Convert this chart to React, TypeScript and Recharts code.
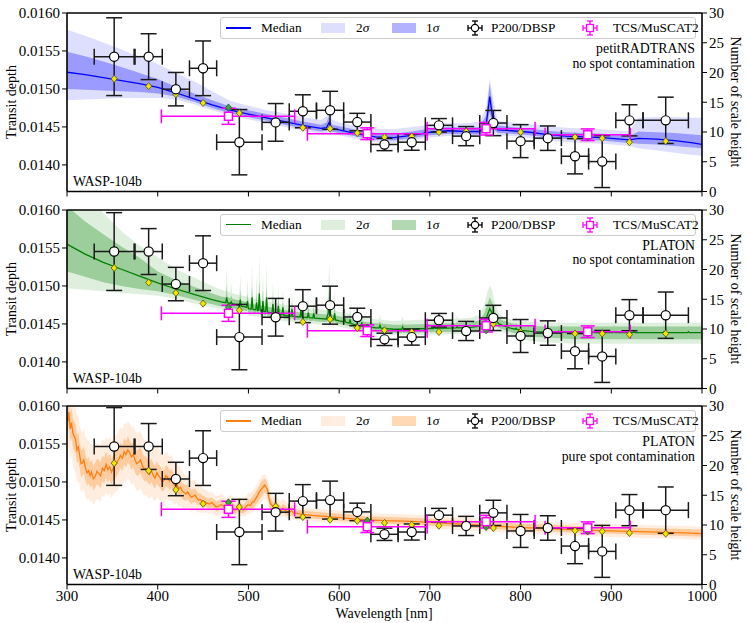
import React from "react";
import {
  ComposedChart,
  Area,
  Line,
  Scatter,
  XAxis,
  YAxis,
  ErrorBar,
  ReferenceLine,
} from "recharts";

const FONT = '"Liberation Serif", "Times New Roman", serif';

// transit depth is kept in ppm (x1e6) and formatted back on the axis
const DEPTH_DOMAIN: [number, number] = [13650, 16000];
const DEPTH_TICKS = [14000, 14500, 15000, 15500, 16000];
const SCALE_TICKS = [0, 5, 10, 15, 20, 25, 30];
const WL_TICKS = [300, 400, 500, 600, 700, 800, 900, 1000];

// P200/DBSP spectrophotometry
const P200_WL = [352, 390, 420, 450, 490, 530, 560, 590, 620, 650, 680, 710, 740, 770, 800, 830, 860, 890, 920, 960];
const P200_HALF = [22, 15, 15, 15, 25, 15, 15, 15, 15, 15, 15, 15, 15, 15, 15, 15, 15, 15, 15, 25];
const P200_DEPTH = [15425, 15425, 14997, 15272, 14299, 14560, 14706, 14719, 14564, 14269, 14299, 14521, 14379, 14551, 14313, 14352, 14114, 14044, 14587, 14587];
const P200_ERR = [512, 302, 220, 360, 430, 248, 217, 250, 115, 81, 106, 89, 126, 166, 217, 161, 232, 342, 205, 305];

// TCS/MuSCAT2 broad bands
const MUS_WL = [478, 631, 762, 874];
const MUS_XERR = [[74, 73], [66, 66], [65, 54], [47, 47]];
const MUS_DEPTH = [14640, 14411, 14477, 14397];
const MUS_ERR = [106, 77, 83, 77];

// ---- panel 1: petitRADTRANS, no spot contamination
const P1_WL = [300, 320, 340, 360, 380, 400, 420, 440, 460, 480, 500, 520, 540, 560, 580, 586, 589, 592, 600, 620, 640, 660, 680, 700, 720, 740, 755, 762, 766, 770, 775, 790, 810, 830, 850, 870, 890, 910, 920, 930, 950, 970, 990, 1000];
const P1_MED = [15220, 15190, 15150, 15110, 15070, 15020, 14950, 14870, 14790, 14720, 14670, 14620, 14570, 14520, 14480, 14490, 14560, 14480, 14460, 14410, 14370, 14360, 14390, 14430, 14450, 14440, 14440, 14520, 14900, 14550, 14460, 14450, 14430, 14400, 14380, 14370, 14360, 14340, 14330, 14350, 14340, 14320, 14290, 14270];
const P1_S1LO = [15000, 14990, 14980, 14970, 14960, 14940, 14900, 14830, 14750, 14680, 14630, 14580, 14530, 14480, 14440, 14450, 14480, 14440, 14420, 14370, 14330, 14320, 14350, 14390, 14410, 14400, 14400, 14450, 14700, 14470, 14420, 14410, 14390, 14360, 14340, 14330, 14320, 14300, 14290, 14280, 14270, 14250, 14230, 14220];
const P1_S1HI = [15490, 15430, 15360, 15290, 15210, 15130, 15030, 14940, 14850, 14770, 14720, 14670, 14620, 14570, 14530, 14560, 14650, 14530, 14510, 14460, 14420, 14410, 14440, 14480, 14500, 14490, 14500, 14650, 15070, 14700, 14520, 14500, 14480, 14450, 14430, 14420, 14410, 14390, 14380, 14440, 14430, 14420, 14400, 14390];
const P1_S2LO = [14850, 14860, 14870, 14880, 14880, 14880, 14860, 14800, 14720, 14650, 14600, 14550, 14500, 14450, 14410, 14420, 14440, 14410, 14390, 14340, 14300, 14290, 14320, 14360, 14380, 14370, 14370, 14410, 14550, 14420, 14390, 14380, 14350, 14320, 14300, 14290, 14280, 14260, 14250, 14220, 14190, 14160, 14130, 14120];
const P1_S2HI = [15780, 15700, 15610, 15520, 15420, 15330, 15210, 15100, 14970, 14840, 14780, 14720, 14680, 14630, 14590, 14640, 14760, 14600, 14560, 14510, 14480, 14470, 14500, 14530, 14550, 14550, 14570, 14750, 15140, 14850, 14580, 14560, 14540, 14510, 14490, 14480, 14470, 14450, 14440, 14620, 14630, 14630, 14620, 14620];
const P1_BIN = [15134, 15037, 14931, 14816, 14683, 14580, 14490, 14477, 14419, 14366, 14375, 14432, 14441, 14520, 14432, 14366, 14366, 14352, 14299, 14313];
const P1_MUSBIN = [14755, 14420, 14500, 14366];

// ---- panel 2: PLATON, no spot contamination (narrow absorption needles)
const P2_WL = [300, 320, 340, 360, 380, 400, 420, 440, 460, 470, 475, 476, 477, 480, 481, 482, 490, 491, 492, 498, 499, 500, 503, 504, 505, 508, 509, 510, 511, 512, 513, 515, 516, 517, 519, 520, 521, 526, 527, 528, 532, 533, 534, 537, 538, 539, 547, 548, 549, 557, 558, 559, 565, 566, 567, 571, 572, 573, 580, 586, 588, 589, 590, 592, 594, 595, 596, 600, 605, 606, 607, 611, 612, 613, 620, 624, 625, 626, 640, 644, 645, 646, 660, 669, 670, 671, 700, 704, 705, 706, 729, 730, 731, 745, 755, 760, 763, 766, 769, 772, 776, 780, 790, 794, 795, 796, 800, 814, 815, 816, 841, 842, 843, 860, 879, 880, 881, 902, 903, 904, 924, 925, 926, 957, 958, 959, 984, 985, 986, 1000];
const P2_MED = [15550, 15420, 15310, 15220, 15130, 15040, 14960, 14890, 14820, 14790, 14780, 14850, 14780, 14770, 14790, 14765, 14740, 14820, 14735, 14720, 14800, 14700, 14695, 14850, 14690, 14685, 14780, 14680, 14680, 14900, 14675, 14670, 14800, 14665, 14660, 14850, 14655, 14645, 14760, 14640, 14630, 14740, 14625, 14620, 14720, 14615, 14600, 14700, 14598, 14592, 14680, 14590, 14585, 14650, 14583, 14578, 14640, 14576, 14570, 14565, 14640, 14800, 14640, 14560, 14556, 14640, 14552, 14540, 14530, 14580, 14525, 14510, 14560, 14505, 14480, 14475, 14520, 14472, 14450, 14448, 14480, 14446, 14430, 14430, 14460, 14430, 14440, 14440, 14470, 14441, 14448, 14470, 14449, 14455, 14470, 14520, 14600, 14700, 14640, 14560, 14500, 14480, 14440, 14430, 14445, 14428, 14415, 14400, 14415, 14399, 14390, 14405, 14390, 14385, 14385, 14400, 14385, 14385, 14400, 14385, 14385, 14397, 14385, 14385, 14400, 14385, 14385, 14397, 14385, 14385];
const P2_S1LO = [15190, 15120, 15050, 15000, 14960, 14930, 14880, 14820, 14760, 14730, 14725, 14740, 14720, 14710, 14720, 14705, 14690, 14710, 14685, 14670, 14690, 14650, 14645, 14680, 14640, 14635, 14660, 14630, 14630, 14700, 14625, 14620, 14650, 14615, 14610, 14660, 14605, 14595, 14630, 14590, 14580, 14610, 14575, 14570, 14600, 14565, 14560, 14580, 14558, 14552, 14570, 14550, 14545, 14560, 14543, 14538, 14550, 14536, 14530, 14525, 14545, 14600, 14545, 14520, 14516, 14540, 14512, 14500, 14488, 14500, 14483, 14468, 14480, 14463, 14430, 14425, 14440, 14422, 14400, 14398, 14410, 14396, 14380, 14380, 14390, 14380, 14390, 14390, 14400, 14391, 14398, 14405, 14399, 14400, 14410, 14440, 14490, 14560, 14530, 14490, 14450, 14430, 14390, 14375, 14380, 14372, 14355, 14330, 14335, 14329, 14310, 14315, 14310, 14300, 14300, 14305, 14300, 14300, 14305, 14300, 14300, 14304, 14300, 14300, 14305, 14300, 14300, 14304, 14300, 14300];
const P2_S1HI = [16050, 15850, 15680, 15520, 15370, 15190, 15080, 14990, 14900, 14860, 14850, 15000, 14850, 14840, 14880, 14835, 14810, 14950, 14805, 14790, 14900, 14770, 14765, 15000, 14760, 14755, 14900, 14750, 14750, 15100, 14745, 14740, 14950, 14735, 14730, 15000, 14725, 14715, 14880, 14710, 14700, 14850, 14695, 14690, 14800, 14685, 14670, 14780, 14668, 14652, 14780, 14650, 14645, 14740, 14643, 14638, 14720, 14636, 14630, 14625, 14780, 14980, 14760, 14620, 14616, 14760, 14612, 14600, 14590, 14650, 14585, 14570, 14640, 14565, 14540, 14535, 14600, 14532, 14510, 14508, 14540, 14506, 14490, 14490, 14520, 14490, 14500, 14500, 14530, 14501, 14508, 14540, 14509, 14520, 14550, 14640, 14750, 14850, 14780, 14660, 14580, 14550, 14510, 14500, 14515, 14497, 14485, 14472, 14487, 14471, 14465, 14480, 14465, 14465, 14465, 14480, 14465, 14465, 14480, 14465, 14465, 14477, 14465, 14465, 14480, 14465, 14465, 14477, 14465, 14465];
const P2_S2LO = [14970, 14950, 14930, 14910, 14890, 14870, 14830, 14770, 14720, 14690, 14685, 14690, 14680, 14670, 14670, 14665, 14650, 14650, 14645, 14630, 14630, 14610, 14605, 14610, 14600, 14595, 14600, 14590, 14590, 14600, 14585, 14580, 14590, 14575, 14575, 14580, 14570, 14560, 14570, 14555, 14550, 14555, 14545, 14540, 14545, 14535, 14525, 14530, 14523, 14512, 14515, 14510, 14505, 14505, 14503, 14498, 14500, 14496, 14490, 14485, 14490, 14520, 14490, 14480, 14476, 14480, 14472, 14460, 14450, 14450, 14445, 14432, 14435, 14428, 14400, 14395, 14400, 14392, 14370, 14368, 14370, 14366, 14350, 14350, 14352, 14350, 14360, 14360, 14362, 14361, 14368, 14370, 14369, 14370, 14380, 14400, 14430, 14480, 14460, 14440, 14410, 14390, 14350, 14330, 14332, 14328, 14300, 14270, 14272, 14268, 14250, 14252, 14250, 14240, 14240, 14242, 14240, 14240, 14242, 14240, 14240, 14242, 14240, 14240, 14242, 14240, 14240, 14242, 14240, 14240];
const P2_S2HI = [16600, 16250, 15960, 15720, 15530, 15380, 15220, 15110, 15000, 14950, 14930, 15250, 14930, 14910, 15050, 14905, 14880, 15150, 14875, 14860, 15100, 14840, 14835, 15300, 14830, 14825, 15150, 14820, 14820, 15450, 14815, 14810, 15200, 14805, 14800, 15300, 14795, 14785, 15050, 14780, 14770, 15000, 14765, 14760, 14950, 14755, 14740, 14900, 14738, 14722, 14950, 14720, 14710, 14880, 14705, 14700, 14850, 14698, 14690, 14685, 14950, 15300, 14950, 14680, 14676, 14950, 14672, 14660, 14650, 14800, 14645, 14630, 14750, 14625, 14600, 14595, 14700, 14592, 14560, 14558, 14620, 14556, 14540, 14545, 14600, 14545, 14560, 14560, 14620, 14561, 14568, 14620, 14569, 14580, 14620, 14760, 14900, 15010, 14930, 14760, 14650, 14600, 14560, 14555, 14600, 14552, 14540, 14525, 14580, 14524, 14515, 14570, 14515, 14515, 14515, 14560, 14515, 14515, 14570, 14515, 14515, 14560, 14515, 14515, 14570, 14515, 14515, 14560, 14515, 14515];
const P2_BIN = [15237, 15045, 14908, 14768, 14680, 14600, 14526, 14562, 14447, 14417, 14394, 14394, 14420, 14500, 14394, 14373, 14373, 14373, 14360, 14373];
const P2_MUSBIN = [14720, 14450, 14417, 14373];

// ---- panel 3: PLATON, pure spot contamination (noisy blue end)
const P3_WL = [300, 301, 302, 303.5, 305, 306.5, 308, 309.5, 311, 312.5, 314, 315.5, 317, 318.5, 320, 322, 324, 325.5, 327, 329, 331, 333, 335, 337, 339, 341, 343, 345, 347, 349, 351, 353, 355, 357, 359, 361, 363, 365, 367, 369, 371, 373, 375, 377, 379, 381, 383, 385, 387, 389, 391, 393, 395, 397, 399, 401, 403, 405, 407, 409, 411, 413, 415, 417, 419, 421, 423, 425, 427, 429, 431, 433, 435, 437, 439, 441, 443, 445, 447, 449.5, 452, 454.5, 457, 459.5, 462, 464.5, 467, 469.5, 472, 474.5, 477, 479.5, 482, 484.5, 487, 489.5, 492, 494.5, 497, 499.5, 502, 504, 506, 508, 510, 512, 514, 516, 518, 519.5, 521, 522.5, 524, 526, 528, 530, 532, 534, 536, 538, 540, 542.5, 545, 547.5, 550, 553, 556, 570, 590, 610, 630, 650, 680, 710, 740, 770, 800, 830, 860, 890, 920, 950, 980, 1000];
const P3_MED = [15860, 15800, 15920, 15700, 15780, 15640, 15600, 15560, 15420, 15460, 15350, 15240, 15250, 15290, 15200, 15120, 15150, 15080, 15130, 15040, 15070, 15140, 15110, 15080, 15180, 15150, 15230, 15160, 15200, 15130, 15180, 15220, 15250, 15300, 15350, 15310, 15400, 15360, 15420, 15390, 15330, 15360, 15290, 15240, 15260, 15290, 15220, 15170, 15180, 15140, 15100, 15150, 15090, 15050, 15120, 15080, 15050, 15000, 15020, 15080, 15060, 15010, 15040, 14990, 14950, 14980, 14910, 14930, 14880, 14860, 14840, 14870, 14830, 14800, 14810, 14830, 14790, 14760, 14770, 14740, 14740, 14720, 14710, 14730, 14700, 14670, 14680, 14700, 14690, 14650, 14660, 14690, 14670, 14630, 14640, 14670, 14650, 14630, 14670, 14700, 14690, 14730, 14740, 14780, 14820, 14870, 14900, 14930, 14960, 14930, 14900, 14800, 14720, 14690, 14660, 14680, 14650, 14630, 14620, 14650, 14630, 14610, 14600, 14620, 14590, 14590, 14580, 14560, 14540, 14520, 14500, 14490, 14480, 14460, 14440, 14420, 14400, 14390, 14370, 14360, 14350, 14340, 14330, 14320];
const P3_S1LO = [15700, 15640, 15750, 15520, 15580, 15450, 15400, 15380, 15250, 15270, 15180, 15060, 15080, 15110, 15030, 14950, 14980, 14920, 14960, 14890, 14920, 14970, 14950, 14920, 15010, 14980, 15060, 14990, 15040, 14970, 15020, 15050, 15080, 15130, 15180, 15140, 15230, 15190, 15250, 15220, 15160, 15190, 15120, 15080, 15090, 15120, 15060, 15010, 15020, 14990, 14960, 15000, 14950, 14910, 14980, 14940, 14920, 14870, 14890, 14940, 14930, 14890, 14920, 14870, 14840, 14860, 14800, 14820, 14780, 14760, 14750, 14770, 14740, 14710, 14730, 14740, 14710, 14690, 14700, 14670, 14680, 14660, 14650, 14660, 14640, 14610, 14620, 14630, 14630, 14590, 14600, 14620, 14610, 14580, 14590, 14610, 14590, 14580, 14610, 14630, 14630, 14650, 14660, 14700, 14730, 14770, 14800, 14830, 14860, 14840, 14810, 14720, 14650, 14620, 14600, 14610, 14590, 14580, 14570, 14590, 14580, 14560, 14550, 14560, 14540, 14540, 14540, 14520, 14500, 14480, 14460, 14450, 14440, 14420, 14400, 14380, 14360, 14350, 14330, 14320, 14310, 14300, 14290, 14280];
const P3_S1HI = [16050, 15990, 16100, 15900, 15980, 15840, 15800, 15760, 15620, 15650, 15520, 15420, 15430, 15470, 15380, 15300, 15330, 15260, 15300, 15220, 15250, 15310, 15290, 15260, 15350, 15320, 15400, 15330, 15370, 15300, 15360, 15390, 15420, 15470, 15520, 15480, 15580, 15540, 15600, 15560, 15500, 15530, 15460, 15410, 15430, 15460, 15390, 15340, 15340, 15300, 15260, 15310, 15250, 15210, 15270, 15230, 15200, 15150, 15160, 15220, 15200, 15150, 15180, 15120, 15080, 15100, 15030, 15050, 14990, 14970, 14950, 14970, 14930, 14900, 14900, 14920, 14880, 14850, 14850, 14820, 14810, 14790, 14780, 14800, 14770, 14740, 14750, 14770, 14760, 14720, 14730, 14760, 14740, 14700, 14700, 14740, 14720, 14700, 14740, 14780, 14770, 14810, 14830, 14870, 14910, 14960, 15000, 15030, 15050, 15020, 14980, 14880, 14800, 14760, 14730, 14750, 14720, 14700, 14680, 14710, 14700, 14670, 14660, 14680, 14650, 14640, 14630, 14610, 14590, 14570, 14550, 14540, 14530, 14510, 14490, 14470, 14450, 14440, 14420, 14410, 14400, 14390, 14380, 14370];
const P3_S2LO = [15450, 15420, 15500, 15300, 15350, 15220, 15150, 15120, 15000, 15020, 14950, 14850, 14880, 14900, 14820, 14760, 14780, 14730, 14760, 14700, 14740, 14780, 14760, 14740, 14820, 14800, 14870, 14810, 14850, 14790, 14830, 14860, 14880, 14930, 14970, 14940, 15020, 14990, 15050, 15020, 14960, 14990, 14920, 14880, 14890, 14920, 14860, 14820, 14830, 14800, 14780, 14810, 14770, 14740, 14800, 14770, 14760, 14720, 14730, 14780, 14770, 14740, 14760, 14730, 14700, 14720, 14670, 14690, 14650, 14640, 14640, 14650, 14630, 14610, 14620, 14630, 14610, 14600, 14600, 14590, 14600, 14590, 14580, 14590, 14570, 14550, 14560, 14570, 14570, 14540, 14550, 14560, 14560, 14530, 14540, 14560, 14550, 14540, 14560, 14580, 14580, 14600, 14610, 14640, 14670, 14700, 14730, 14760, 14780, 14770, 14740, 14660, 14600, 14580, 14560, 14570, 14550, 14540, 14530, 14550, 14540, 14520, 14510, 14520, 14500, 14500, 14500, 14480, 14460, 14440, 14420, 14410, 14400, 14380, 14360, 14340, 14320, 14310, 14290, 14280, 14270, 14260, 14250, 14240];
const P3_S2HI = [16300, 16250, 16300, 16150, 16200, 16080, 16000, 15980, 15850, 15900, 15750, 15680, 15650, 15700, 15600, 15560, 15550, 15500, 15520, 15450, 15470, 15520, 15500, 15480, 15560, 15540, 15600, 15560, 15580, 15530, 15570, 15610, 15620, 15680, 15720, 15700, 15780, 15760, 15800, 15780, 15720, 15740, 15680, 15640, 15650, 15670, 15600, 15560, 15560, 15520, 15480, 15510, 15460, 15430, 15480, 15440, 15400, 15360, 15360, 15400, 15380, 15330, 15350, 15300, 15250, 15270, 15200, 15210, 15140, 15110, 15080, 15090, 15050, 15010, 15020, 15030, 14990, 14960, 14950, 14920, 14900, 14880, 14860, 14870, 14840, 14810, 14820, 14840, 14830, 14790, 14800, 14830, 14810, 14760, 14770, 14800, 14790, 14770, 14810, 14850, 14850, 14880, 14900, 14940, 14980, 15030, 15060, 15090, 15100, 15080, 15040, 14950, 14870, 14830, 14800, 14820, 14790, 14770, 14750, 14780, 14760, 14730, 14720, 14740, 14700, 14690, 14680, 14650, 14630, 14610, 14590, 14580, 14570, 14550, 14530, 14510, 14490, 14480, 14460, 14450, 14440, 14430, 14420, 14410];
const P3_BIN = [15248, 15147, 14897, 14713, 14670, 14678, 14539, 14503, 14490, 14460, 14437, 14424, 14420, 14394, 14400, 14390, 14359, 14350, 14329, 14320];
const P3_MUSBIN = [14730, 14490, 14407, 14350];

type PanelCfg = {
  wl: number[];
  med: number[];
  s1lo: number[];
  s1hi: number[];
  s2lo: number[];
  s2hi: number[];
  bin: number[];
  musBin: number[];
  shift: number; // relative offset of the P200 points in this fit
  color: string;
  title: string;
  subtitle: string;
};

const PANELS: PanelCfg[] = [
  { wl: P1_WL, med: P1_MED, s1lo: P1_S1LO, s1hi: P1_S1HI, s2lo: P1_S2LO, s2hi: P1_S2HI, bin: P1_BIN, musBin: P1_MUSBIN, shift: 0, color: "#0000ff", title: "petitRADTRANS", subtitle: "no spot contamination" },
  { wl: P2_WL, med: P2_MED, s1lo: P2_S1LO, s1hi: P2_S1HI, s2lo: P2_S2LO, s2hi: P2_S2HI, bin: P2_BIN, musBin: P2_MUSBIN, shift: 28, color: "#008000", title: "PLATON", subtitle: "no spot contamination" },
  { wl: P3_WL, med: P3_MED, s1lo: P3_S1LO, s1hi: P3_S1HI, s2lo: P3_S2LO, s2hi: P3_S2HI, bin: P3_BIN, musBin: P3_MUSBIN, shift: 42, color: "#ff7f0e", title: "PLATON", subtitle: "pure spot contamination" },
];

const S2_OPACITY = 0.13;
const S1_OPACITY = 0.3;

const fmtDepth = (v: number) => (v / 1e6).toFixed(4);

const Circle = (p: any) => (
  <circle cx={p.cx} cy={p.cy} r={4.6} fill="#fff" stroke="#000" strokeWidth={1.2} />
);
const Square = (p: any) => (
  <rect x={p.cx - 4} y={p.cy - 4} width={8} height={8} fill="#fff" stroke="#ff00ff" strokeWidth={1.5} />
);
const Diamond = (fill: string, edge: string) => (p: any) => (
  <path
    d={`M${p.cx},${p.cy - 3.6}L${p.cx + 3},${p.cy}L${p.cx},${p.cy + 3.6}L${p.cx - 3},${p.cy}Z`}
    fill={fill}
    stroke={edge}
    strokeWidth={0.8}
  />
);
const Nothing = () => <g />;

const PLOT_TOP = 13;
const PLOT_H = 178.5;

function LegendIcon({ color }: { color: string }) {
  return (
    <svg width={16} height={16} style={{ position: "absolute", left: -8, top: 2 }}>
      <line x1={1} y1={8} x2={15} y2={8} stroke={color} strokeWidth={1.3} />
      <line x1={1} y1={5} x2={1} y2={11} stroke={color} strokeWidth={1.3} />
      <line x1={15} y1={5} x2={15} y2={11} stroke={color} strokeWidth={1.3} />
      <line x1={8} y1={1} x2={8} y2={15} stroke={color} strokeWidth={1.3} />
      <line x1={5} y1={1} x2={11} y2={1} stroke={color} strokeWidth={1.3} />
      <line x1={5} y1={15} x2={11} y2={15} stroke={color} strokeWidth={1.3} />
      {color === "#000" ? (
        <circle cx={8} cy={8} r={3.6} fill="#fff" stroke="#000" strokeWidth={1.1} />
      ) : (
        <rect x={4.5} y={4.5} width={7} height={7} fill="#fff" stroke={color} strokeWidth={1.3} />
      )}
    </svg>
  );
}

function PanelLegend({ color }: { color: string }) {
  const txt: React.CSSProperties = { position: "absolute", top: 0, lineHeight: "20px", fontSize: 13.3, whiteSpace: "nowrap" };
  return (
    <div
      style={{
        position: "absolute",
        left: 220,
        top: PLOT_TOP + 4,
        width: 474,
        height: 20,
        border: "1px solid #cccccc",
        borderRadius: 3,
        background: "rgba(255,255,255,0.85)",
      }}
    >
      <div style={{ position: "absolute", left: 5, top: 9, width: 25, height: 1.6, background: color }} />
      <span style={{ ...txt, left: 40 }}>Median</span>
      <div style={{ position: "absolute", left: 100, top: 5, width: 24, height: 10, background: color, opacity: S2_OPACITY }} />
      <span style={{ ...txt, left: 135 }}>2<i>σ</i></span>
      <div style={{ position: "absolute", left: 171, top: 5, width: 24, height: 10, background: color, opacity: S1_OPACITY }} />
      <span style={{ ...txt, left: 205 }}>1<i>σ</i></span>
      <div style={{ position: "absolute", left: 254, top: 0 }}>
        <LegendIcon color="#000" />
      </div>
      <span style={{ ...txt, left: 270 }}>P200/DBSP</span>
      <div style={{ position: "absolute", left: 369, top: 0 }}>
        <LegendIcon color="#ff00ff" />
      </div>
      <span style={{ ...txt, left: 392 }}>TCS/MuSCAT2</span>
    </div>
  );
}

function Panel({ cfg, top, bottom }: { cfg: PanelCfg; top: number; bottom: boolean }) {
  const xh = bottom ? 38.5 : 5.5;
  const height = PLOT_TOP + PLOT_H + xh;
  const rows = cfg.wl.map((wl, i) => ({
    wl,
    med: cfg.med[i],
    s1: [cfg.s1lo[i], cfg.s1hi[i]],
    s2: [cfg.s2lo[i], cfg.s2hi[i]],
  }));
  const p200 = P200_WL.map((wl, i) => ({
    wl,
    depth: P200_DEPTH[i] + cfg.shift,
    ex: P200_HALF[i],
    ey: P200_ERR[i],
  }));
  const mus = MUS_WL.map((wl, i) => ({ wl, depth: MUS_DEPTH[i], ex: MUS_XERR[i], ey: MUS_ERR[i] }));
  const bins = P200_WL.map((wl, i) => ({ wl, depth: cfg.bin[i] }));
  const musBins = MUS_WL.map((wl, i) => ({ wl, depth: cfg.musBin[i] }));
  const axisLine = { stroke: "#000", strokeWidth: 1.6 };
  const tickLine = { stroke: "#000", strokeWidth: 1 };
  const tick = { fill: "#000", fontSize: 15 };

  return (
    <div style={{ position: "absolute", left: 0, top, width: 747, height }}>
      <ComposedChart
        width={747}
        height={height}
        data={rows}
        margin={{ top: PLOT_TOP, right: 0, bottom: 0, left: 0 }}
      >
        <XAxis
          type="number"
          dataKey="wl"
          domain={[300, 1000]}
          ticks={WL_TICKS}
          interval={0}
          allowDataOverflow
          height={xh}
          tickSize={5}
          tickMargin={1}
          axisLine={axisLine}
          tickLine={tickLine}
          tick={tick}
          tickFormatter={bottom ? (v: number) => String(v) : () => ""}
        />
        <YAxis
          yAxisId="left"
          type="number"
          domain={DEPTH_DOMAIN}
          ticks={DEPTH_TICKS}
          interval={0}
          allowDataOverflow
          width={67}
          tickSize={5}
          tickMargin={2}
          axisLine={axisLine}
          tickLine={tickLine}
          tick={tick}
          tickFormatter={fmtDepth}
        />
        <YAxis
          yAxisId="right"
          orientation="right"
          type="number"
          domain={[0, 30]}
          ticks={SCALE_TICKS}
          interval={0}
          allowDataOverflow
          width={45}
          tickSize={5}
          tickMargin={2}
          axisLine={axisLine}
          tickLine={tickLine}
          tick={tick}
        />
        <Area
          yAxisId="left"
          type="linear"
          dataKey="s2"
          stroke="none"
          fill={cfg.color}
          fillOpacity={S2_OPACITY}
          isAnimationActive={false}
        />
        <Area
          yAxisId="left"
          type="linear"
          dataKey="s1"
          stroke="none"
          fill={cfg.color}
          fillOpacity={S1_OPACITY}
          isAnimationActive={false}
        />
        <Line
          yAxisId="left"
          type="linear"
          dataKey="med"
          stroke={cfg.color}
          strokeWidth={1.3}
          dot={false}
          isAnimationActive={false}
        />
        <Scatter yAxisId="left" data={p200} dataKey="depth" shape={Nothing} isAnimationActive={false}>
          <ErrorBar dataKey="ey" direction="y" width={8} stroke="#1a1a1a" strokeWidth={1.5} />
          <ErrorBar dataKey="ex" direction="x" width={8} stroke="#1a1a1a" strokeWidth={1.5} />
        </Scatter>
        <Scatter yAxisId="left" data={mus} dataKey="depth" shape={Nothing} isAnimationActive={false}>
          <ErrorBar dataKey="ey" direction="y" width={7} stroke="#ff00ff" strokeWidth={1.5} />
          <ErrorBar dataKey="ex" direction="x" width={7} stroke="#ff00ff" strokeWidth={1.5} />
        </Scatter>
        <Scatter yAxisId="left" data={musBins} dataKey="depth" shape={Diamond("#33aa33", "#225522")} isAnimationActive={false} />
        <Scatter yAxisId="left" data={bins} dataKey="depth" shape={Diamond("#f2e600", "#55550a")} isAnimationActive={false} />
        <Scatter yAxisId="left" data={p200} dataKey="depth" shape={Circle} isAnimationActive={false} />
        <Scatter yAxisId="left" data={mus} dataKey="depth" shape={Square} isAnimationActive={false} />
        <ReferenceLine yAxisId="left" y={DEPTH_DOMAIN[1]} stroke="#000" strokeWidth={1.6} />
      </ComposedChart>

      <PanelLegend color={cfg.color} />
      <div
        style={{
          position: "absolute",
          right: 52,
          top: PLOT_TOP + 29,
          textAlign: "right",
          fontSize: 13.8,
          lineHeight: "14.5px",
        }}
      >
        {cfg.title}
        <br />
        {cfg.subtitle}
      </div>
      <div style={{ position: "absolute", left: 73, top: PLOT_TOP + 161, fontSize: 13.8, lineHeight: "16px" }}>
        WASP-104b
      </div>
      <div
        style={{
          position: "absolute",
          left: 12,
          top: PLOT_TOP + PLOT_H / 2,
          transform: "translate(-50%, -50%) rotate(-90deg)",
          fontSize: 14,
          whiteSpace: "nowrap",
        }}
      >
        Transit depth
      </div>
      <div
        style={{
          position: "absolute",
          left: 735,
          top: PLOT_TOP + PLOT_H / 2,
          transform: "translate(-50%, -50%) rotate(90deg)",
          fontSize: 14,
          whiteSpace: "nowrap",
        }}
      >
        Number of scale height
      </div>
      {bottom && (
        <div
          style={{
            position: "absolute",
            left: 67 + 317,
            top: PLOT_TOP + PLOT_H + 22,
            transform: "translateX(-50%)",
            fontSize: 14,
            lineHeight: "14px",
            whiteSpace: "nowrap",
          }}
        >
          Wavelength [nm]
        </div>
      )}
    </div>
  );
}

export default function App() {
  return (
    <div
      style={{
        position: "absolute",
        left: 0,
        top: 0,
        width: 747,
        height: 623,
        background: "#fff",
        fontFamily: FONT,
        color: "#000",
      }}
    >
      <style>{`.recharts-surface { overflow: visible; }`}</style>
      <Panel cfg={PANELS[0]} top={0} bottom={false} />
      <Panel cfg={PANELS[1]} top={196.5} bottom={false} />
      <Panel cfg={PANELS[2]} top={393} bottom />
    </div>
  );
}
